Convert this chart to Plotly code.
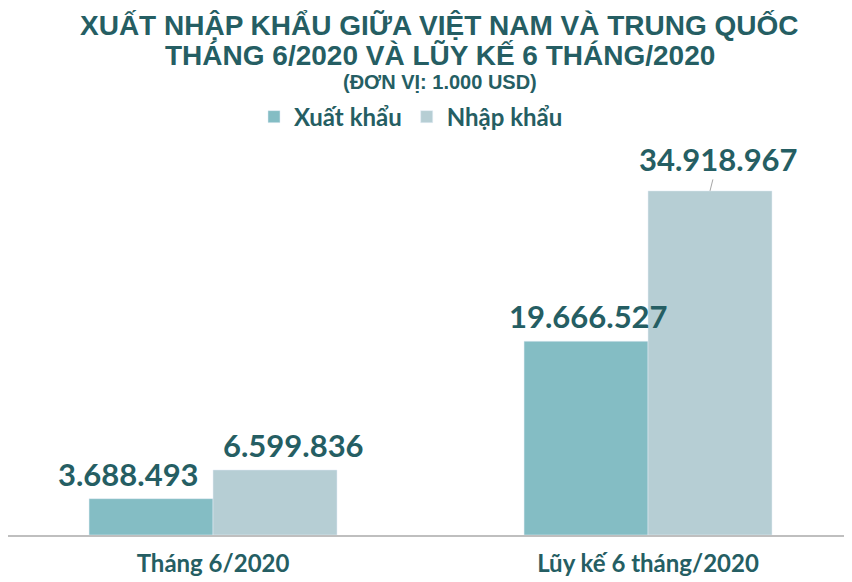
import plotly.graph_objects as go

categories = ["Tháng 6/2020", "Lũy kế 6 tháng/2020"]
xuat_khau = [3688493, 19666527]
nhap_khau = [6599836, 34918967]
xuat_labels = ["3.688.493", "19.666.527"]
nhap_labels = ["6.599.836", "34.918.967"]

TEAL = "#255E63"
C_XUAT = "#84BDC4"
C_NHAP = "#B6CED4"

fig = go.Figure()
fig.add_bar(x=categories, y=xuat_khau, name="Xuất khẩu", marker_color=C_XUAT)
fig.add_bar(x=categories, y=nhap_khau, name="Nhập khẩu", marker_color=C_NHAP)

bar_w = (1 - 0.43) / 2
val_font = dict(family="Lato", size=31, color=TEAL)

# value labels
for i, cat in enumerate(categories):
    fig.add_annotation(x=i - bar_w / 2, y=xuat_khau[i], text="<b>" + xuat_labels[i] + "</b>",
                       showarrow=False, yanchor="bottom", yshift=4,
                       xshift=-23 if i == 0 else 2, font=val_font)
    if i == 0:
        fig.add_annotation(x=i + bar_w / 2, y=nhap_khau[i], text="<b>" + nhap_labels[i] + "</b>",
                           showarrow=False, yanchor="bottom", yshift=4, xshift=18, font=val_font)
    else:
        fig.add_annotation(x=i + bar_w / 2, y=nhap_khau[i], text="<b>" + nhap_labels[i] + "</b>",
                           showarrow=True, arrowhead=0, arrowwidth=1, arrowcolor="#A6A6A6",
                           ax=8, ay=-32, font=val_font)

title_font = "Liberation Sans"
fig.add_annotation(xref="paper", yref="paper", x=0.507, y=1.259, yanchor="middle",
                   showarrow=False, text="<b>XUẤT NHẬP KHẨU GIỮA VIỆT NAM VÀ TRUNG QUỐC</b>",
                   font=dict(family=title_font, size=28, color=TEAL))
fig.add_annotation(xref="paper", yref="paper", x=0.507, y=1.185, yanchor="middle",
                   showarrow=False, text="<b>THÁNG 6/2020 VÀ LŨY KẾ 6 THÁNG/2020</b>",
                   font=dict(family=title_font, size=28, color=TEAL))
fig.add_annotation(xref="paper", yref="paper", x=0.507, y=1.119, yanchor="middle",
                   showarrow=False, text="<b>(ĐƠN VỊ: 1.000 USD)</b>",
                   font=dict(family=title_font, size=20, color=TEAL))

fig.update_layout(
    width=852, height=582,
    margin=dict(l=0, r=0, t=122, b=55, autoexpand=False),
    plot_bgcolor="white", paper_bgcolor="white",
    barmode="group", bargap=0.43, bargroupgap=0,
    showlegend=True,
    legend=dict(orientation="h", x=0.473, xanchor="center", y=1.032, yanchor="middle",
                font=dict(family="Lato", size=24, color=TEAL, weight="bold"), itemwidth=30,
                traceorder="normal"),
)
fig.update_xaxes(range=[-0.4713, 1.4873], showline=True, linecolor="#BFBFBF", linewidth=1.5,
                 ticks="", tickfont=dict(family="Lato", size=24, color=TEAL, weight="bold"),
                 ticklabelstandoff=6, automargin=False)
fig.update_yaxes(range=[0, 41.1e6], visible=False, showgrid=False)

fig.write_html("out.html")
